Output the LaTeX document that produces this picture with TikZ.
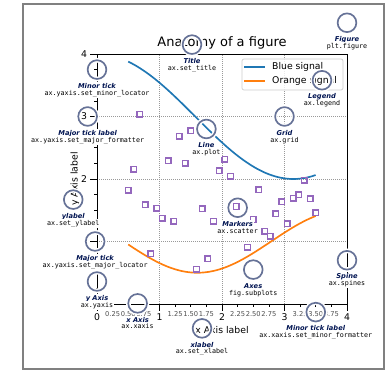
\documentclass[tikz,border=0pt]{standalone}
\usepackage{fontspec}
\setmainfont{DejaVu Sans}
\setmonofont{DejaVu Sans Mono}
\usepackage{xcolor}
\definecolor{tabblue}{HTML}{1F77B4}
\definecolor{taborange}{HTML}{FF7F0E}
\definecolor{tabpurple}{HTML}{9467BD}
\definecolor{royalblue}{RGB}{0, 20, 82}
\definecolor{ringblue}{RGB}{102, 114, 151}
\usepackage{tikz}
\usetikzlibrary{positioning}
\newcommand{\fsize}[1]{\fontsize{#1}{#1}\selectfont}
\pgfdeclarelayer{front}
\pgfsetlayers{main,front}

\begin{document}
\begin{tikzpicture}[x=62.5pt, y=62.5pt,
        spineline/.style={draw=black, line width=0.6pt},
        gridline/.style={draw=black!40, line width=0.3pt, dash pattern=on 1.2pt off 0.8pt},
        tickline/.style={draw=black, line width=0.67pt},
        majlabel/.style={inner sep=0pt, font=\fsize{9.3pt}},
        minlabel/.style={inner sep=0pt, text=black!70, font=\fsize{6.7pt}},
        sqbox/.style={rectangle, draw=tabpurple, line width=1.4pt, minimum size=5.6pt, inner sep=0pt},
        ring/.style={circle, draw=ringblue, line width=1.67pt, minimum size=18.75pt, inner sep=0pt, preaction={draw=white, line width=4.67pt}},
        tagtext/.style={anchor=base, fill=white, inner sep=1.2pt, text=royalblue, font=\fsize{6.7pt}\bfseries\itshape},
        codetext/.style={anchor=base, fill=white, inner sep=1.2pt, font=\fsize{6.7pt}\ttfamily},
        legendbox/.style={rectangle, draw=black!20, line width=0.67pt, fill=white, fill opacity=0.8, rounded corners=2pt, minimum width=101pt, minimum height=31pt},
        signal/.style={line width=1.67pt}]

    \useasboundingbox (-1.552,-1.072) rectangle (4.688,4.864);
    \draw[gray, line width=2pt] (-1.18,-1.045) rectangle (4.585,4.8);

    % grid, spines, ticks
    \foreach \g in {1,2,3} {
        \draw[gridline] (\g,0) -- (\g,4);
        \draw[gridline] (0,\g) -- (4,\g);
    }
    \draw[spineline] (0,0) rectangle (4,4);
    \foreach \t in {0,...,4} {
        \draw[tickline] (\t,0) -- (\t,-0.107);
        \draw[tickline] (0,\t) -- (-0.107,\t);
        \node[majlabel, anchor=north] (xmaj\t) at (\t,-0.145) {\t};
    }
    \foreach \t in {2,3,4}
        \node[majlabel, anchor=east] (ymaj\t) at (-0.155,\t) {\t};
    \foreach \t [count=\i] in {0.25,0.50,0.75,1.25,1.50,1.75,2.25,2.50,2.75,3.25,3.50,3.75} {
        \draw[tickline] (\t,0) -- (\t,-0.053);
        \draw[tickline] (0,\t) -- (-0.053,\t);
        \node[minlabel, anchor=north] (xmin\i) at (\t,-0.115) {\t};
    }

    \node[anchor=base, font=\fsize{13pt}] (title) at (2,4.112) {Anatomy of a figure};
    \node[anchor=base, font=\fsize{9.3pt}] (xlabel) at (2,-0.47) {x Axis label};
    \node[anchor=base, font=\fsize{9.3pt}, rotate=90] (ylabel) at (-0.31,2) {y Axis label};

    % signals and markers
    \draw[signal, tabblue] plot[domain=0.5:3.5, samples=100] (\x, {3+cos(\x r)});
    \draw[signal, taborange] plot[domain=0.5:3.5, samples=100] (\x, {1+cos((1+\x/0.75) r)/2});
    \foreach \v [count=\k from 0] in {1.819, 2.155, 3.035, 1.589, 0.800, 1.533, 1.373, 2.291, 1.323, 2.685,
            2.253, 2.773, 0.555, 1.525, 0.720, 1.325, 2.128, 2.315, 2.042, 1.560, 1.200, 0.907, 1.352,
            1.824, 1.162, 1.083, 1.440, 1.635, 1.285, 1.693, 1.744, 1.981, 1.685, 1.456}
        \node[sqbox] (m\k) at ({0.5+\k*3/33}, \v) {};

    % legend
    \node[legendbox] (legend) at (3.128,3.672) {};
    \draw[signal, tabblue] (2.352,3.792) -- (2.688,3.792);
    \draw[signal, taborange] (2.352,3.568) -- (2.688,3.568);
    \node[anchor=base west, inner sep=0pt, font=\fsize{9.3pt}] (lblue) at (2.8,3.755) {Blue signal};
    \node[anchor=base west, inner sep=0pt, font=\fsize{9.3pt}] (lorange) at (2.8,3.531) {Orange signal};

    % annotations
    \foreach \nm/\cx/\cy/\lbl/\src in {
            minorlabel/3.5/-0.13/Minor tick label/ax.xaxis.set\_minor\_formatter,
            majortick/-0.03/1.0/Major tick/ax.yaxis.set\_major\_locator,
            minortick/0.0/3.75/Minor tick/ax.yaxis.set\_minor\_locator,
            majorlabel/-0.15/3.0/Major tick label/ax.yaxis.set\_major\_formatter,
            xlab/1.68/-0.39/xlabel/ax.set\_xlabel,
            ylab/-0.38/1.67/ylabel/ax.set\_ylabel,
            titl/1.52/4.15/Title/ax.set\_title,
            line/1.75/2.8/Line/ax.plot,
            markers/2.25/1.54/Markers/ax.scatter,
            grd/3.0/3.0/Grid/ax.grid,
            leg/3.6/3.58/Legend/ax.legend,
            axes/2.5/0.55/Axes/fig.subplots,
            figure/4.0/4.5/Figure/plt.figure,
            xaxis/0.65/0.01/x Axis/ax.xaxis,
            yaxis/0.0/0.36/y Axis/ax.yaxis,
            spine/4.0/0.7/Spine/ax.spines} {
        \node[ring] (c-\nm) at (\cx,\cy) {};
        \begin{pgfonlayer}{front}
            \node[tagtext] (t-\nm) at (\cx,\cy-0.30) {\lbl};
            \node[codetext] (k-\nm) at (\cx,\cy-0.41) {\src};
        \end{pgfonlayer}
    }
\end{tikzpicture}
\end{document}
